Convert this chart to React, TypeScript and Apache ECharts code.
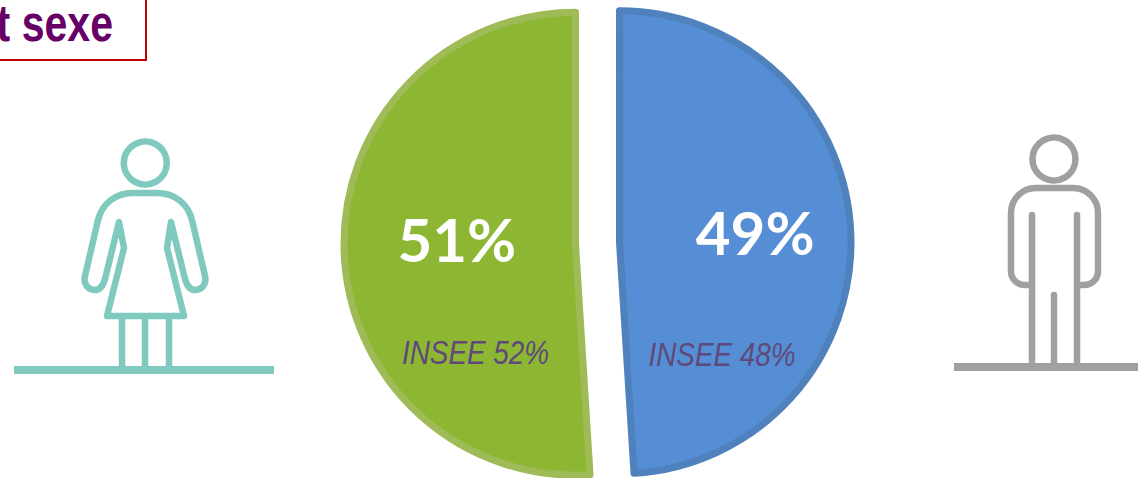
import React, { useEffect, useRef } from "react";
import * as echarts from "echarts";

const categories = ["Hommes", "Femmes"];
const values = [49, 51];
const inseeLabels = ["INSEE 48%", "INSEE 52%"];
const titleText = "t sexe";

const womanBody =
  "M133 193 L157 193 C175 193 188 204 192 220 L205 276 C207 285 201 290 195 290 C190 290 187 286 185 279 L171 222 L167 248 L184 316 L107 316 L124 248 L119 222 L105 279 C103 286 100 290 95 290 C89 290 83 285 85 276 L98 220 C102 204 115 193 133 193 Z " +
  "M122 316 L122 370 M145 316 L145 370 M169 316 L169 370";
const manBody =
  "M1032 215 L1032 285 L1025 285 C1017 285 1011 279 1011 271 L1011 213 C1011 199 1022 188 1036 188 L1073 188 C1087 188 1098 199 1098 213 L1098 271 C1098 279 1092 285 1084 285 L1077 285 L1077 215 M1032 285 L1032 366 M1077 285 L1077 366 M1054 295 L1054 366";

echarts.graphic.registerShape("womanBody", echarts.graphic.extendPath(womanBody, {}));
echarts.graphic.registerShape("manBody", echarts.graphic.extendPath(manBody, {}));

export default function App() {
  const ref = useRef<HTMLDivElement>(null);
  useEffect(() => {
    document.body.style.margin = "0";
    const chart = echarts.init(ref.current!, null, { renderer: "svg" });
    const teal = "#7FC9BF";
    const grey = "#A0A0A0";
    const lineStyle = (c: string, w = 6.5) => ({
      fill: "none",
      stroke: c,
      lineWidth: w,
      lineCap: "round",
      lineJoin: "round",
    });
    const blueStyle = { color: "#558ED5", borderColor: "#4F81BD", borderWidth: 7, borderJoin: "round" };
    const greenStyle = { color: "#8DB733", borderColor: "#9FBB58", borderWidth: 7, borderJoin: "round" };
    chart.setOption({
      animation: false,
      backgroundColor: "#ffffff",
      series: [
        {
          type: "pie",
          center: [597.5, 243],
          radius: [0, 231.5],
          startAngle: 90,
          clockwise: true,
          selectedMode: "multiple",
          selectedOffset: 22,
          avoidLabelOverlap: false,
          silent: true,
          label: {
            show: true,
            position: "inside",
            formatter: "{c}%",
            color: "#ffffff",
            fontFamily: "Lato",
            fontWeight: "bold",
            fontSize: 60,
          },
          labelLine: { show: false },
          labelLayout: (p: any) => ({ dx: p.dataIndex === 0 ? 17 : 0, dy: p.dataIndex === 0 ? -7 : -8 }),
          data: [
            { name: categories[0], value: values[0], selected: true, itemStyle: blueStyle, select: { itemStyle: blueStyle } },
            { name: categories[1], value: values[1], selected: true, itemStyle: greenStyle, select: { itemStyle: greenStyle } },
          ],
        },
      ],
      graphic: {
        elements: [
          { type: "rect", z: 10, shape: { x: -20, y: -20, width: 166, height: 80 }, style: { fill: "#ffffff", stroke: "#C00000", lineWidth: 2 } },
          {
            type: "text", z: 11, x: 113, y: 23, scaleX: 0.79,
            style: { text: titleText, fill: "#660066", font: 'bold 52px "Liberation Sans"', textAlign: "right", textVerticalAlign: "middle" },
          },
          { type: "circle", z: 10, shape: { cx: 145.3, cy: 163, r: 21.5 }, style: lineStyle(teal) },
          { type: "womanBody", z: 10, style: lineStyle(teal) },
          { type: "rect", z: 10, shape: { x: 14, y: 366, width: 260, height: 8 }, style: { fill: teal } },
          { type: "circle", z: 10, shape: { cx: 1054, cy: 159, r: 21.5 }, style: lineStyle(grey) },
          { type: "manBody", z: 10, style: lineStyle(grey) },
          { type: "rect", z: 10, shape: { x: 954, y: 363, width: 184, height: 8 }, style: { fill: grey } },
          {
            type: "text", z: 11, x: 722, y: 354, scaleX: 0.845,
            style: { text: inseeLabels[0], fill: "#5F497A", font: 'italic 33px "Liberation Sans"', textAlign: "center", textVerticalAlign: "middle" },
          },
          {
            type: "text", z: 11, x: 475.5, y: 352, scaleX: 0.845,
            style: { text: inseeLabels[1], fill: "#5F497A", font: 'italic 33px "Liberation Sans"', textAlign: "center", textVerticalAlign: "middle" },
          },
        ],
      },
    });
    return () => chart.dispose();
  }, []);
  return <div ref={ref} style={{ position: "fixed", left: 0, top: 0, width: 1138, height: 478 }} />;
}
